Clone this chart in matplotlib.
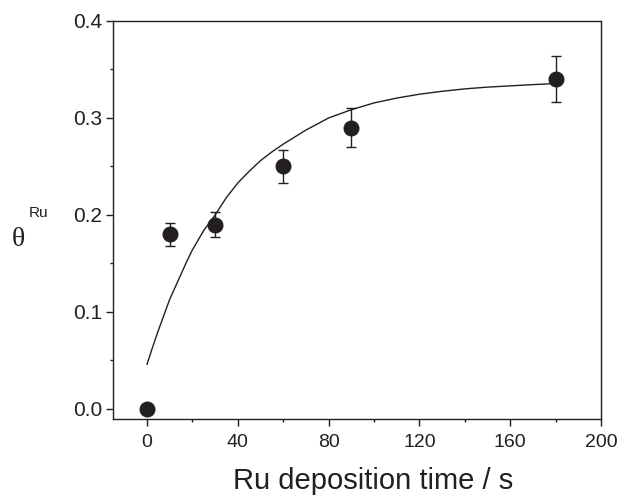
import matplotlib
matplotlib.use("Agg")
import matplotlib.pyplot as plt
from matplotlib.ticker import MultipleLocator

# Measured data
time_s = [0, 10, 30, 60, 90, 180]
theta = [0.0, 0.18, 0.19, 0.25, 0.29, 0.34]
theta_err = [0.0, 0.012, 0.013, 0.017, 0.020, 0.024]

# Fitted curve
fit_x = [0, 2.5, 5, 7.5, 10, 12.5, 15, 17.5, 20, 25, 30, 35, 40, 45, 50, 55, 60,
         70, 80, 90, 100, 110, 120, 130, 140, 150, 160, 170, 180]
fit_y = [0.046, 0.064, 0.081, 0.097, 0.113, 0.126, 0.139, 0.152, 0.164, 0.184,
         0.200, 0.218, 0.233, 0.245, 0.256, 0.265, 0.273, 0.2875, 0.300, 0.3085,
         0.3155, 0.3205, 0.3245, 0.3275, 0.330, 0.3318, 0.3331, 0.3344, 0.3355]

x_ticks = [0, 40, 80, 120, 160, 200]
y_ticks = [0.0, 0.1, 0.2, 0.3, 0.4]

plt.rcParams['font.family'] = ['Liberation Sans', 'DejaVu Sans']

fig = plt.figure(figsize=(6.22, 4.95), dpi=100)
ax = fig.add_axes([113/622, 1-419/495, (601-113)/622, (419-21)/495])

ax.plot(fit_x, fit_y, color='#231f20', lw=1.0)
ax.errorbar(time_s, theta, yerr=theta_err, fmt='o', color='#231f20',
            ms=10.5, ecolor='#231f20', elinewidth=1.0, capsize=3.5, capthick=1.0)

ax.set_xlim(-15, 200)
ax.set_ylim(-0.0105, 0.4)
ax.set_xticks(x_ticks)
ax.set_yticks(y_ticks)
ax.set_xticklabels([str(v) for v in x_ticks])
ax.set_yticklabels([f"{v:.1f}" for v in y_ticks])
ax.xaxis.set_minor_locator(MultipleLocator(20))
ax.yaxis.set_minor_locator(MultipleLocator(0.05))
ax.tick_params(which='major', direction='out', length=5, width=1, colors='#231f20')
ax.tick_params(which='minor', direction='out', length=2.5, width=1, colors='#231f20')
ax.tick_params(axis='x', which='major', labelsize=14, pad=6)
ax.tick_params(axis='y', which='major', labelsize=15, pad=3)
for s in ax.spines.values():
    s.set_linewidth(1.0)
    s.set_color('#231f20')

fig.text(373/622, 1-489/495, "Ru deposition time / s", fontsize=21, color='#231f20',
         ha='center', va='baseline')
fig.text(18/622, 1-240/495, "θ", fontsize=20, family=['Liberation Serif', 'DejaVu Serif'],
         ha='center', va='center', color='#231f20')
fig.text(39/622, 1-213/495, "Ru", fontsize=11, ha='center', va='center', color='#231f20')

fig.savefig("out.png", dpi=100)
